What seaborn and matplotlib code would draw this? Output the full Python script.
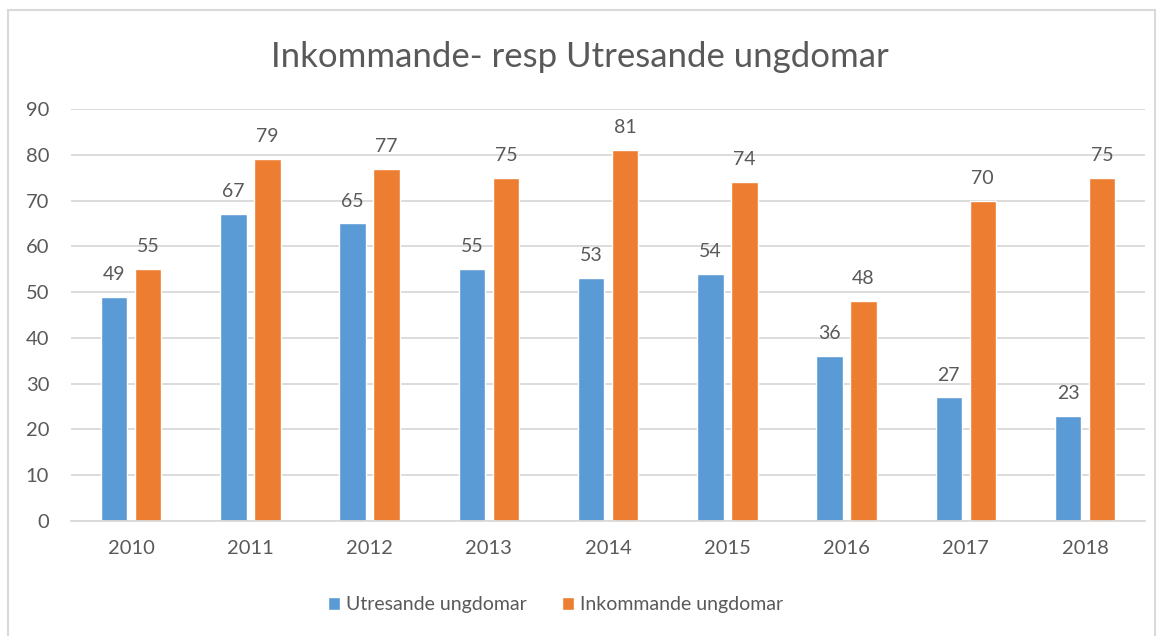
#!/usr/bin/env python3
""" Inkommande- resp Utresande ungdomar, grouped bar chart """

import pandas as pd
import matplotlib.pyplot as plt
from matplotlib.patches import Rectangle
import seaborn as sns

years = ['2010', '2011', '2012', '2013', '2014', '2015', '2016', '2017', '2018']
utresande = [49, 67, 65, 55, 53, 54, 36, 27, 23]
inkommande = [55, 79, 77, 75, 81, 74, 48, 70, 75]
series = ['Utresande ungdomar', 'Inkommande ungdomar']
colors = ['#5B9BD5', '#ED7D31']

TEXT = '#595959'
GRID = '#D9D9D9'


def main():
  df = pd.DataFrame({
    'År': years * 2,
    'Antal': utresande + inkommande,
    'Serie': [series[0]] * len(years) + [series[1]] * len(years),
  })

  sns.set_style('white')
  plt.rcParams['font.family'] = ['Lato', 'DejaVu Sans']

  fig = plt.figure(figsize=(11.6, 6.36), dpi=100)
  ax = fig.add_axes([0.0616, 0.1808, 0.9252, 0.6478])

  sns.barplot(data=df, x='År', y='Antal', hue='Serie', hue_order=series,
              palette=colors, width=0.57, gap=0.22, saturation=1,
              legend=True, ax=ax)

  # Value labels above bars
  for cont in ax.containers:
    ax.bar_label(cont, padding=10, fontsize=14, color=TEXT)

  ax.set_xlim(-0.5, len(years) - 0.5)
  ax.set_ylim(0, 90)
  ax.set_yticks(range(0, 91, 10))
  ax.yaxis.grid(True, color=GRID, linewidth=1.3)
  ax.set_axisbelow(True)
  for side in ['top', 'right', 'left']:
    ax.spines[side].set_visible(False)
  ax.spines['bottom'].set_color(GRID)
  ax.spines['bottom'].set_linewidth(1.3)
  ax.tick_params(axis='both', length=0, labelsize=14.5, labelcolor=TEXT)
  ax.tick_params(axis='y', pad=16)
  ax.tick_params(axis='x', pad=14)
  ax.set_xlabel('')
  ax.set_ylabel('')

  fig.text(0.5, 0.91, 'Inkommande- resp Utresande ungdomar',
           ha='center', va='center', fontsize=25, color=TEXT)

  handles, labels = ax.get_legend_handles_labels()
  ax.legend(handles, labels, loc='center', bbox_to_anchor=(0.479, 0.049),
            bbox_transform=fig.transFigure, ncol=2, frameon=False,
            fontsize=14, labelcolor=TEXT, handlelength=0.62,
            handleheight=0.62, handletextpad=0.3, columnspacing=1.85)

  # Chart area border
  fig.patches.append(Rectangle((8 / 1160, -0.01), 1147 / 1160, 1 - 10 / 636 + 0.01,
                               transform=fig.transFigure, fill=False,
                               edgecolor=GRID, linewidth=1.5))

  fig.savefig('out.png', dpi=100, facecolor='white')


if __name__ == '__main__':
  main()
